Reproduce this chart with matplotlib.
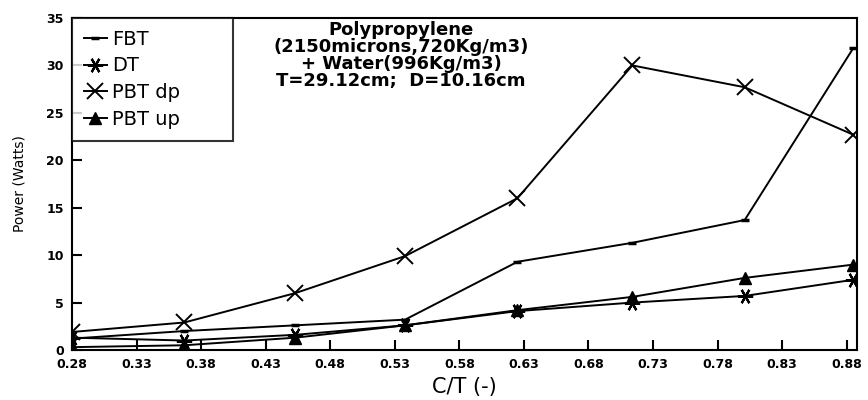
#!/usr/bin/env python3


import matplotlib.pyplot as plt

ct = [0.28, 0.367, 0.453, 0.538, 0.625, 0.714, 0.801, 0.885]

fbt = [1.2, 2.0, 2.6, 3.2, 9.3, 11.3, 13.7, 31.8]
dt = [1.3, 1.0, 1.6, 2.6, 4.1, 5.0, 5.7, 7.4]
pbt_dp = [1.9, 2.9, 6.0, 9.9, 16.0, 30.0, 27.7, 22.7]
pbt_up = [0.3, 0.5, 1.3, 2.6, 4.2, 5.6, 7.6, 9.0]

xticks = [0.28, 0.33, 0.38, 0.43, 0.48, 0.53, 0.58, 0.63, 0.68, 0.73, 0.78, 0.83, 0.88]
yticks = [0, 5, 10, 15, 20, 25, 30, 35]

note = "Polypropylene\n(2150microns,720Kg/m3)\n+ Water(996Kg/m3)\nT=29.12cm;  D=10.16cm"


def main() -> None:
    fig = plt.figure(figsize=(8.68, 4.0), dpi=100)
    ax = fig.add_axes([72 / 868, 50 / 400, 785 / 868, 332 / 400])

    kw = dict(color="black", lw=1.4)
    ax.plot(ct, fbt, marker="_", ms=6, mew=2.5, label="FBT", **kw)
    ax.plot(ct, dt, marker=(6, 2, 90), ms=11, mew=1.6, label="DT", **kw)
    ax.plot(ct, pbt_dp, marker="x", ms=11, mew=1.4, label="PBT dp", **kw)
    ax.plot(ct, pbt_up, marker="^", ms=8, label="PBT up", **kw)

    ax.set_xlim(0.28, 0.888)
    ax.set_ylim(0, 35)
    ax.set_xticks(xticks)
    ax.set_xticklabels([f"{t:.2f}" for t in xticks], fontsize=9, fontweight="bold")
    ax.set_yticks(yticks)
    ax.set_yticklabels([str(t) for t in yticks], fontsize=9, fontweight="bold")
    ax.tick_params(direction="in", length=7, width=1.5, pad=6)
    for s in ax.spines.values():
        s.set_linewidth(1.5)

    ax.set_xlabel("C/T (-)", fontsize=15, labelpad=4)
    ax.set_ylabel("Power (Watts)", fontsize=10, labelpad=14,
                  family=["Liberation Sans Narrow", "DejaVu Sans"])

    leg = ax.legend(loc="upper left", fontsize=14, frameon=True, fancybox=False,
                    edgecolor="black", bbox_to_anchor=(0, 0, 161 / 785, 1),
                    mode="expand", borderaxespad=0, handlelength=1.2,
                    handletextpad=0.25, labelspacing=0.4, borderpad=0.6)
    leg.get_frame().set_linewidth(1.5)

    fig.text(401 / 868, 1 - 21 / 400, note, ha="center", va="top",
             fontsize=13, fontweight="bold", linespacing=0.92)

    plt.savefig("out.png", dpi=100)

    return


if __name__ == "__main__":
    main()
